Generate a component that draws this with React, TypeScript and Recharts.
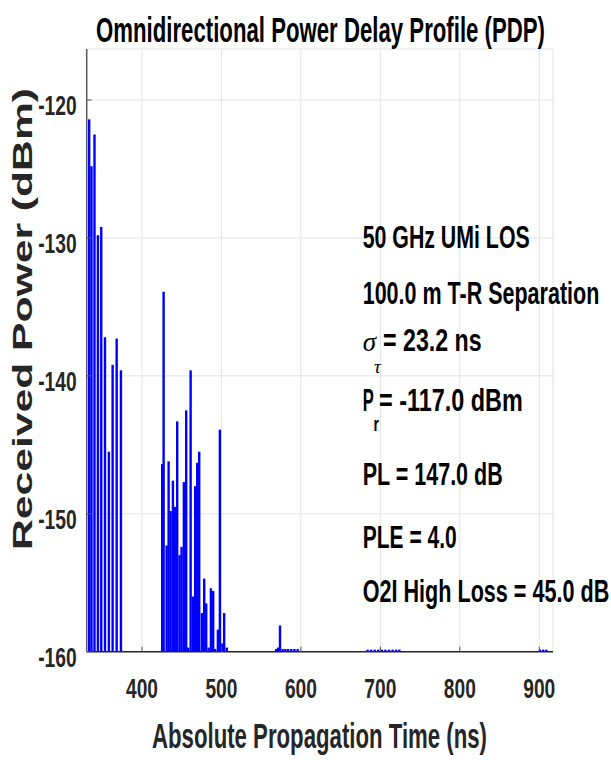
import React from 'react';
import { ComposedChart, Bar, XAxis, YAxis, CartesianGrid } from 'recharts';

// ---- data ----
const delaysNs = [
  333.6, 336.5, 340.3, 344.6, 348.8, 353.5, 358.4, 363.1, 368.2, 373.6,
  425.5, 427.3, 431.1, 433.6, 436.1, 439.0, 441.5, 444.4, 447.4, 449.9,
  452.8, 455.7, 458.2, 461.3, 464.2, 467.0, 469.6, 472.1, 475.5, 478.4,
  480.9, 483.9, 486.8, 489.7, 492.2, 495.6, 498.1, 501.0, 503.5, 506.9,
  569.0, 571.5, 573.8, 577.0, 580.5, 584.0, 588.0, 592.0, 596.0,
  684.0, 688.5, 693.0, 697.5, 702.0, 706.5, 711.0, 715.5, 720.0, 724.0,
  901.0, 905.0, 909.0,
];
const powersDbm = [
  -121.4, -124.8, -122.5, -129.8, -129.2, -137.2, -145.5, -139.2, -137.3, -139.6,
  -146.4, -133.9, -152.3, -146.2, -149.8, -147.6, -149.5, -143.3, -153.0, -152.4,
  -147.7, -142.5, -159.7, -139.6, -156.0, -148.0, -146.3, -145.5, -157.2, -154.7,
  -156.5, -159.7, -155.4, -155.6, -159.8, -158.4, -143.9, -159.4, -157.2, -159.7,
  -159.8, -159.7, -158.1, -159.8, -159.8, -159.8, -159.8, -159.8, -159.8,
  -159.85, -159.85, -159.85, -159.85, -159.85, -159.85, -159.85, -159.85, -159.85, -159.85,
  -159.85, -159.85, -159.85,
];
const xTicks = [400, 500, 600, 700, 800, 900];
const yTicks = [-160, -150, -140, -130, -120];
const xDomain: [number, number] = [330.4, 917.3];
const yDomain: [number, number] = [-160, -116.3];

const titleText = 'Omnidirectional Power Delay Profile (PDP)';
const xLabelText = 'Absolute Propagation Time (ns)';
const yLabelText = 'Received Power (dBm)';
const infoLine1 = '50 GHz UMi LOS';
const infoLine2 = '100.0 m T-R Separation';
const sigmaValue = '= 23.2 ns';
const prValue = '= -117.0 dBm';
const infoLine5 = 'PL = 147.0 dB';
const infoLine6 = 'PLE = 4.0';
const infoLine7 = 'O2I High Loss = 45.0 dB';

const data = delaysNs.map((t, i) => ({ t, p: powersDbm[i] }));

const FONT = "'Liberation Sans', Arial, Helvetica, sans-serif";
const W = 611;
const H = 760;
const PLOT = { left: 86.7, right: 553, top: 49, bottom: 651.7 };
const Y_AXIS_W = 80;
const X_AXIS_H = 60;

const BarShape = (props: any) => {
  const { x, y, width, height } = props;
  if (![x, y, width, height].every((v: any) => Number.isFinite(v))) return null;
  const cx = x + width / 2;
  const top = Math.min(y, y + height);
  const h = Math.abs(height);
  return <rect x={cx - 1.2} y={top} width={2.4} height={h} fill="#0000ff" />;
};

const XTick = (props: any) => {
  const { x, y, payload } = props;
  return (
    <g>
      <line x1={x} x2={x} y1={y} y2={y - 5} stroke="#555" strokeWidth={1} />
      <text
        x={x}
        y={y + 46.5}
        textAnchor="middle"
        fontFamily={FONT}
        fontWeight="bold"
        fontSize={28}
        fill="#262626"
        textLength={32}
        lengthAdjust="spacingAndGlyphs"
      >
        {payload.value}
      </text>
    </g>
  );
};

const YTick = (props: any) => {
  const { x, y, payload } = props;
  return (
    <g>
      <line x1={x} x2={x + 5} y1={y} y2={y} stroke="#555" strokeWidth={1} />
      <text
        x={x - 10}
        y={y + 15}
        textAnchor="end"
        fontFamily={FONT}
        fontWeight="bold"
        fontSize={27}
        fill="#262626"
        textLength={38.5}
        lengthAdjust="spacingAndGlyphs"
      >
        {payload.value}
      </text>
    </g>
  );
};

const txt = (content: string, x: number, y: number, len: number, size = 31.5, extra: any = {}) => (
  <text
    x={x}
    y={y}
    fontFamily={FONT}
    fontWeight="bold"
    fontSize={size}
    fill="#000"
    textLength={len}
    lengthAdjust="spacingAndGlyphs"
    {...extra}
  >
    {content}
  </text>
);

export default function App() {
  return (
    <div style={{ position: 'absolute', left: 0, top: 0, width: W, height: H, background: '#fff' }}>
      <ComposedChart
        width={W}
        height={H}
        data={data}
        margin={{
          top: PLOT.top,
          right: W - PLOT.right,
          bottom: H - PLOT.bottom - X_AXIS_H,
          left: PLOT.left - Y_AXIS_W,
        }}
        barGap={0}
        barCategoryGap={0}
      >
        <CartesianGrid stroke="#e3e3e3" strokeWidth={1} />
        <XAxis
          type="number"
          dataKey="t"
          domain={xDomain}
          ticks={xTicks}
          allowDataOverflow
          interval={0}
          height={X_AXIS_H}
          tickLine={false}
          tickSize={0}
          tickMargin={0}
          tick={<XTick />}
          axisLine={{ stroke: '#262626', strokeWidth: 1.5 }}
        />
        <YAxis
          type="number"
          domain={yDomain}
          ticks={yTicks}
          allowDataOverflow
          interval={0}
          width={Y_AXIS_W}
          tickLine={false}
          tickSize={0}
          tickMargin={0}
          tick={<YTick />}
          axisLine={{ stroke: '#5a5a5a', strokeWidth: 1.5 }}
        />
        <Bar
          dataKey={(d: any) => [yDomain[0], d.p]}
          shape={<BarShape />}
          barSize={2}
          isAnimationActive={false}
        />
      </ComposedChart>
      <svg
        width={W}
        height={H}
        style={{ position: 'absolute', left: 0, top: 0, pointerEvents: 'none' }}
      >
        {txt(titleText, 320.5, 42, 449, 35, { textAnchor: 'middle' })}
        {txt(xLabelText, 319.5, 748, 335, 35, { textAnchor: 'middle', fill: '#262626' })}
        <text
          transform="translate(32 319) rotate(-90)"
          x={0}
          y={0}
          textAnchor="middle"
          fontFamily={FONT}
          fontWeight="bold"
          fontSize={28}
          fill="#262626"
          textLength={462}
          lengthAdjust="spacingAndGlyphs"
        >
          {yLabelText}
        </text>
        {txt(infoLine1, 362.7, 248, 167)}
        {txt(infoLine2, 362.7, 304, 236.6)}
        <text x={362.7} y={351} fontFamily="'Liberation Serif', 'DejaVu Serif', serif" fontStyle="italic" fontSize={27} fill="#000">
          σ
        </text>
        <text x={374} y={373} fontFamily="'Liberation Serif', 'DejaVu Serif', serif" fontStyle="italic" fontSize={19} fill="#000">
          τ
        </text>
        {txt(sigmaValue, 383, 351, 98.7)}
        {txt('P', 362.7, 411, 11)}
        {txt('r', 373.5, 431, 5.5, 20)}
        {txt(prValue, 379, 411, 143.7)}
        {txt(infoLine5, 362.7, 485, 140)}
        {txt(infoLine6, 362.7, 548, 94)}
        {txt(infoLine7, 362.7, 602, 246.6)}
      </svg>
    </div>
  );
}
